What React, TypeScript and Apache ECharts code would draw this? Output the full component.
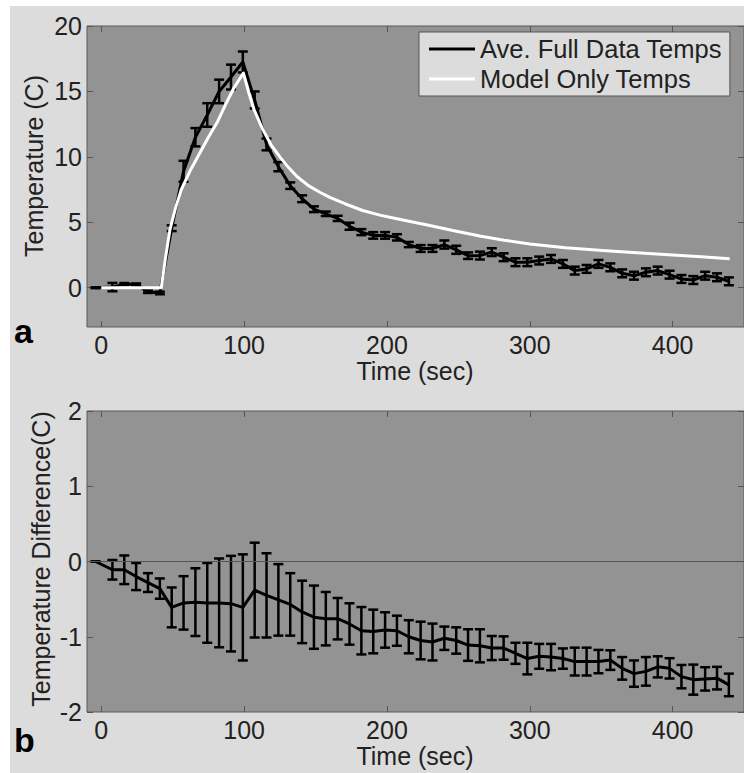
import React, { useEffect, useRef } from 'react';
import * as echarts from 'echarts';

// Sample times (sec) shared by both panels
const times = [
  -4, 7.8, 16.1, 24.4, 32.7, 41.0, 49.3, 57.6, 65.9, 74.2, 82.5, 90.8, 99.1, 107.4,
  115.7, 124.0, 132.3, 140.6, 148.9, 157.2, 165.5, 173.8, 182.1, 190.4, 198.7, 207.0,
  215.3, 223.6, 231.9, 240.2, 248.5, 256.8, 265.1, 273.4, 281.7, 290.0, 298.3, 306.6,
  314.9, 323.2, 331.5, 339.8, 348.1, 356.4, 364.7, 373.0, 381.3, 389.6, 397.9, 406.2,
  414.5, 422.8, 431.1, 439.4,
];

// Panel a: average full-data temperatures (C) and error half-widths
const fullMean = [
  0.0, 0.05, 0.28, 0.25, -0.3, -0.4, 4.55, 8.9, 11.5, 13.2, 15.0, 16.1, 17.25, 14.35,
  10.95, 9.25, 7.8, 6.8, 6.0, 5.65, 5.3, 4.7, 4.25, 4.0, 4.0, 3.85,
  3.3, 3.0, 3.0, 3.3, 2.9, 2.45, 2.46, 2.72, 2.33, 1.95, 1.95, 2.08,
  2.2, 1.82, 1.31, 1.44, 1.82, 1.56, 1.1, 0.92, 1.18, 1.31, 1.0, 0.67,
  0.59, 0.92, 0.8, 0.49,
];
const fullErr = [
  0.03, 0.32, 0.08, 0.08, 0.1, 0.1, 0.22, 0.8, 0.7, 0.9, 0.9, 0.95, 0.8, 0.65,
  0.45, 0.35, 0.25, 0.26, 0.22, 0.17, 0.2, 0.27, 0.23, 0.25, 0.25, 0.24,
  0.2, 0.26, 0.26, 0.31, 0.31, 0.25, 0.3, 0.3, 0.3, 0.3, 0.3, 0.3,
  0.3, 0.3, 0.3, 0.3, 0.3, 0.3, 0.3, 0.3, 0.3, 0.3, 0.3, 0.3,
  0.3, 0.3, 0.3, 0.3,
];

// Panel a: model-only temperatures
const modelTimes = [
  0, 42, 45, 48, 52, 56, 62, 69, 75, 81, 87, 93, 99.5, 103, 107, 113, 119, 125, 131, 137,
  145, 153, 160, 171, 183, 195, 207, 218, 230, 247, 265, 282, 300, 325, 351, 375, 400, 420, 440,
];
const modelTemps = [
  0, 0, 2.3, 4.4, 6.1, 7.5, 8.9, 10.3, 11.5, 12.6, 14.0, 15.3, 16.4, 15.0, 13.6, 12.1, 10.9, 10.0, 9.2, 8.5,
  7.8, 7.3, 6.9, 6.4, 5.9, 5.55, 5.27, 5.03, 4.76, 4.36, 3.95, 3.63, 3.35, 3.06, 2.85, 2.67, 2.5, 2.36, 2.22,
];

// Panel b: temperature difference (C) and error half-widths
const diffMean = [
  0, -0.11, -0.11, -0.2, -0.28, -0.36, -0.61, -0.55, -0.54, -0.55, -0.55, -0.56, -0.61, -0.38,
  -0.45, -0.51, -0.57, -0.67, -0.74, -0.76, -0.76, -0.83, -0.92, -0.93, -0.91, -0.92,
  -1.0, -1.05, -1.07, -1.02, -1.05, -1.11, -1.12, -1.15, -1.15, -1.22, -1.29, -1.26,
  -1.27, -1.29, -1.33, -1.33, -1.33, -1.31, -1.42, -1.49, -1.46, -1.4, -1.42, -1.53,
  -1.57, -1.56, -1.55, -1.64,
];
const diffErr = [
  0, 0.13, 0.19, 0.18, 0.125, 0.135, 0.265, 0.355, 0.45, 0.53, 0.59, 0.635, 0.705, 0.63,
  0.56, 0.475, 0.415, 0.415, 0.42, 0.355, 0.275, 0.275, 0.315, 0.29, 0.235, 0.2,
  0.22, 0.25, 0.245, 0.155, 0.175, 0.21, 0.22, 0.16, 0.155, 0.14, 0.21, 0.165,
  0.175, 0.135, 0.185, 0.185, 0.155, 0.13, 0.15, 0.175, 0.19, 0.14, 0.135, 0.155,
  0.2, 0.155, 0.15, 0.15,
];

const timeTicks = [0, 100, 200, 300, 400];
const tempTicks = [0, 5, 10, 15, 20];
const diffTicks = [-2, -1, 0, 1, 2];

const FONT = 'Liberation Sans, Arial, sans-serif';
const TXT = '#222222';
const FS = 25;

function valueAxis(gridIndex: number, position: string, ticks: number[], min: number, max: number, showLabel: boolean) {
  return {
    type: 'value',
    gridIndex,
    position,
    min,
    max,
    axisLine: { show: false, onZero: false },
    splitLine: { show: false },
    axisTick: { show: true, inside: true, length: 6, lineStyle: { color: '#555', width: 1 }, customValues: ticks },
    axisLabel: { show: showLabel, customValues: ticks, fontSize: FS, fontFamily: FONT, color: TXT, margin: 5 },
  };
}

function errorBarSeries(name: string, xi: number, yi: number, data: number[][]) {
  return {
    type: 'custom',
    name,
    xAxisIndex: xi,
    yAxisIndex: yi,
    z: 3,
    encode: { x: 0, y: [1, 2] },
    data,
    renderItem: (params: any, api: any) => {
      const x = api.value(0);
      const lo = api.value(1);
      const hi = api.value(2);
      const top = api.coord([x, hi]);
      const bot = api.coord([x, lo]);
      const hw = 5;
      const style = { stroke: '#000', lineWidth: 2.5 };
      return {
        type: 'group',
        children: [
          { type: 'line', shape: { x1: top[0], y1: top[1], x2: bot[0], y2: bot[1] }, style },
          { type: 'line', shape: { x1: top[0] - hw, y1: top[1], x2: top[0] + hw, y2: top[1] }, style },
          { type: 'line', shape: { x1: bot[0] - hw, y1: bot[1], x2: bot[0] + hw, y2: bot[1] }, style },
        ],
      };
    },
  };
}

export default function App() {
  const ref = useRef<HTMLDivElement>(null);
  useEffect(() => {
    const chart = echarts.init(ref.current!, null, { renderer: 'svg' });
    const fullBars = times.map((t, i) => [t, fullMean[i] - fullErr[i], fullMean[i] + fullErr[i]]);
    const diffBars = times.map((t, i) => [t, diffMean[i] - diffErr[i], diffMean[i] + diffErr[i]]);
    const gridStyle = { show: true, backgroundColor: '#939393', borderColor: '#5a5a5a', borderWidth: 1 };
    const option: any = {
      animation: false,
      backgroundColor: '#dcdcdc',
      textStyle: { fontFamily: FONT },
      grid: [
        { left: 87, top: 26, width: 658, height: 301, ...gridStyle },
        { left: 87, top: 411, width: 658, height: 301, ...gridStyle },
      ],
      xAxis: [
        valueAxis(0, 'bottom', timeTicks, -10, 450, true),
        valueAxis(0, 'top', timeTicks, -10, 450, false),
        valueAxis(1, 'bottom', timeTicks, -10, 450, true),
        valueAxis(1, 'top', timeTicks, -10, 450, false),
      ],
      yAxis: [
        valueAxis(0, 'left', tempTicks, -3, 20, true),
        valueAxis(0, 'right', tempTicks, -3, 20, false),
        valueAxis(1, 'left', diffTicks, -2, 2, true),
        valueAxis(1, 'right', diffTicks, -2, 2, false),
      ],
      legend: {
        show: true,
        orient: 'vertical',
        left: 419,
        top: 32,
        backgroundColor: '#dcdcdc',
        borderColor: '#555',
        borderWidth: 1,
        padding: [4, 8, 4, 10],
        itemGap: 4,
        itemWidth: 46,
        itemHeight: 3,
        icon: 'rect',
        selectedMode: false,
        textStyle: { fontSize: 25.5, fontFamily: FONT, color: TXT },
        data: [
          { name: 'Ave. Full Data Temps', itemStyle: { color: '#000' } },
          { name: 'Model Only Temps', itemStyle: { color: '#fff' } },
        ],
      },
      graphic: [
        { type: 'rect', shape: { x: 0, y: 0, width: 744, height: 6 }, style: { fill: '#fff' } },
        { type: 'rect', shape: { x: 0, y: 0, width: 10, height: 773 }, style: { fill: '#fff' } },
        { type: 'text', x: 14, y: 331, style: { text: 'a', font: `bold 34px ${FONT}`, fill: '#000', verticalAlign: 'middle' } },
        { type: 'text', x: 14, y: 740, style: { text: 'b', font: `bold 34px ${FONT}`, fill: '#000', verticalAlign: 'middle' } },
        { type: 'text', x: 415, y: 371, style: { text: 'Time (sec)', font: `${FS}px ${FONT}`, fill: TXT, align: 'center', verticalAlign: 'middle' } },
        { type: 'text', x: 415, y: 756, style: { text: 'Time (sec)', font: `${FS}px ${FONT}`, fill: TXT, align: 'center', verticalAlign: 'middle' } },
        { type: 'text', x: 34, y: 166, rotation: Math.PI / 2, style: { text: 'Temperature (C)', font: `${FS}px ${FONT}`, fill: TXT, align: 'center', verticalAlign: 'middle' } },
        { type: 'text', x: 41, y: 559, rotation: Math.PI / 2, style: { text: 'Temperature Difference(C)', font: `${FS}px ${FONT}`, fill: TXT, align: 'center', verticalAlign: 'middle' } },
      ],
      series: [
        {
          type: 'line',
          name: 'Ave. Full Data Temps',
          xAxisIndex: 0,
          yAxisIndex: 0,
          data: times.map((t, i) => [t, fullMean[i]]),
          symbol: 'none',
          lineStyle: { color: '#000', width: 3 },
          itemStyle: { color: '#000' },
          z: 3,
        },
        errorBarSeries('fullErr', 0, 0, fullBars),
        {
          type: 'line',
          name: 'Model Only Temps',
          xAxisIndex: 0,
          yAxisIndex: 0,
          data: modelTimes.map((t, i) => [t, modelTemps[i]]),
          symbol: 'none',
          lineStyle: { color: '#fff', width: 3, join: 'round' },
          itemStyle: { color: '#fff' },
          z: 4,
        },
        {
          type: 'line',
          name: 'diff',
          xAxisIndex: 2,
          yAxisIndex: 2,
          data: times.map((t, i) => [t, diffMean[i]]),
          symbol: 'none',
          lineStyle: { color: '#000', width: 3 },
          z: 3,
          markLine: {
            silent: true,
            symbol: 'none',
            label: { show: false },
            lineStyle: { color: '#555', width: 1, type: 'solid' },
            data: [{ yAxis: 0 }],
          },
        },
        errorBarSeries('diffErr', 2, 2, diffBars),
      ],
    };
    chart.setOption(option);
    return () => chart.dispose();
  }, []);
  return <div ref={ref} style={{ position: 'absolute', left: 0, top: 0, width: 744, height: 773 }} />;
}
